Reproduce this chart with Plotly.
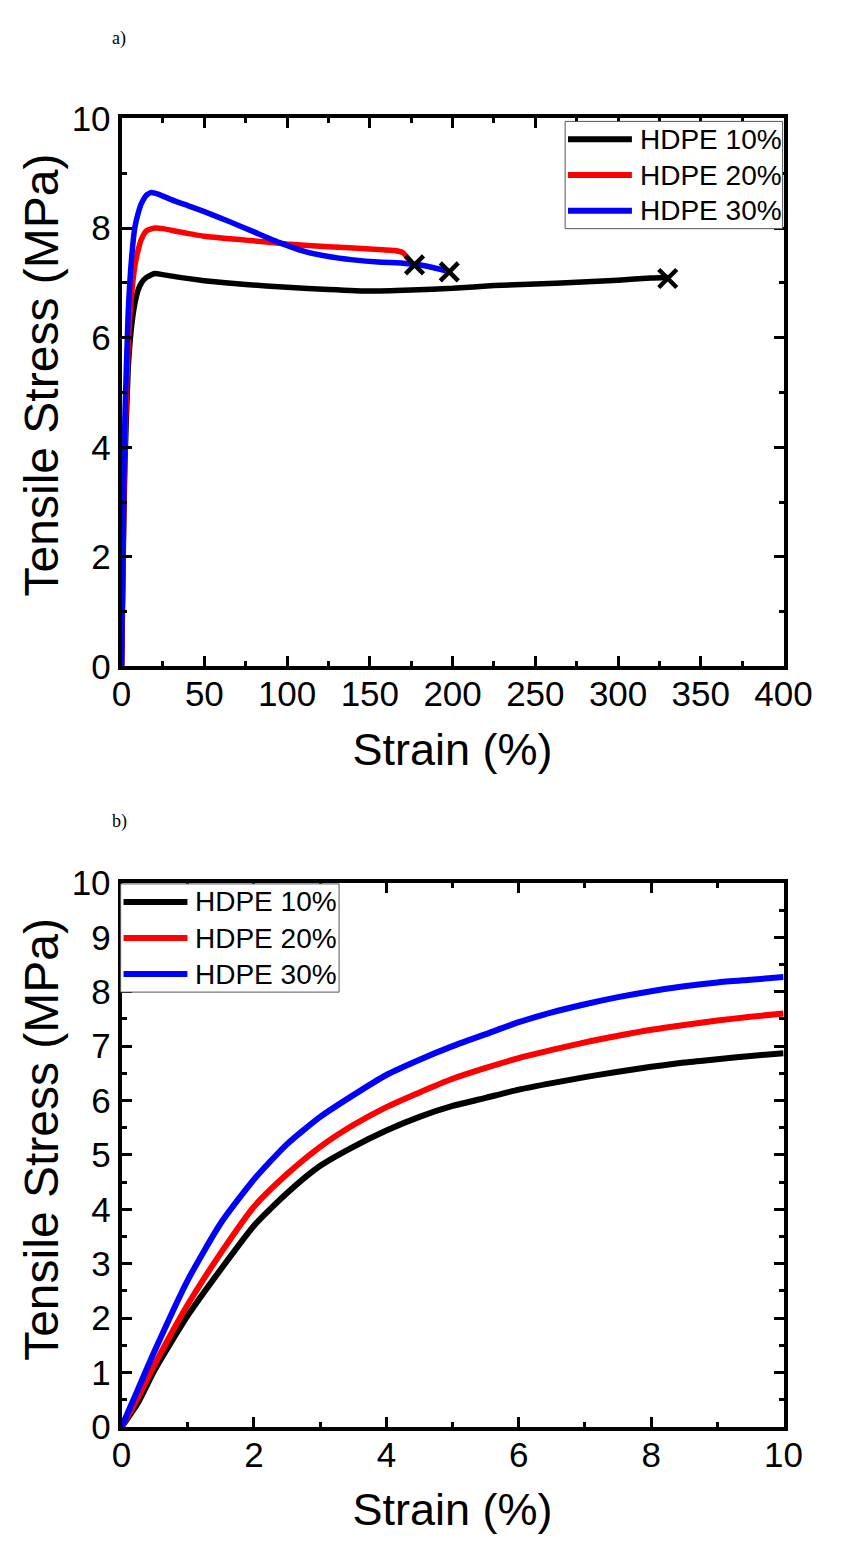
import plotly.graph_objects as go

W, H = 845, 1563
FONT = "Liberation Sans, Arial, sans-serif"

series_names = ["HDPE 10%", "HDPE 20%", "HDPE 30%"]
series_colors = ["#000000", "#ff0000", "#0000ff"]
x_title = "Strain (%)"
y_title = "Tensile Stress (MPa)"

# ---------- panel a) full curves ----------
strain_a_10 = [0, 1, 2, 4, 6, 8, 10, 12, 15, 20, 25, 35, 50, 75, 100, 125, 150, 175, 200, 225, 250, 275, 300, 320, 330]
stress_a_10 = [0, 2.05, 3.7, 5.45, 6.2, 6.62, 6.87, 7.0, 7.1, 7.17, 7.15, 7.1, 7.04, 6.97, 6.92, 6.88, 6.85, 6.87, 6.9, 6.95, 6.98, 7.01, 7.05, 7.09, 7.1]

strain_a_20 = [0, 1, 2, 4, 6, 8, 10, 12, 15, 20, 25, 35, 50, 75, 100, 125, 150, 165, 170, 173, 175]
stress_a_20 = [0, 2.25, 4.05, 5.88, 6.78, 7.3, 7.6, 7.8, 7.95, 8.0, 7.99, 7.93, 7.85, 7.78, 7.71, 7.66, 7.62, 7.59, 7.55, 7.45, 7.38]

strain_a_30 = [0, 1, 2, 4, 6, 8, 10, 12, 15, 18, 22, 30, 40, 50, 65, 80, 95, 110, 125, 140, 155, 170, 180, 188, 196]
stress_a_30 = [0, 2.7, 4.55, 6.47, 7.44, 8.01, 8.27, 8.45, 8.6, 8.65, 8.62, 8.52, 8.41, 8.3, 8.12, 7.93, 7.74, 7.58, 7.48, 7.42, 7.38, 7.36, 7.33, 7.28, 7.22]

break_strain = [330, 177, 198]
break_stress = [7.08, 7.33, 7.2]

# ---------- panel b) initial region ----------
strain_b = [0, 0.25, 0.5, 1, 1.5, 2, 2.5, 3, 3.5, 4, 4.5, 5, 5.5, 6, 6.5, 7, 7.5, 8, 8.5, 9, 9.5, 10]
stress_b_10 = [0, 0.45, 1.05, 2.05, 2.9, 3.7, 4.3, 4.8, 5.15, 5.45, 5.7, 5.9, 6.05, 6.2, 6.32, 6.43, 6.53, 6.62, 6.7, 6.76, 6.82, 6.87]
stress_b_20 = [0, 0.55, 1.15, 2.25, 3.2, 4.05, 4.65, 5.15, 5.55, 5.88, 6.15, 6.4, 6.6, 6.78, 6.93, 7.07, 7.19, 7.3, 7.39, 7.47, 7.54, 7.6]
stress_b_30 = [0, 0.7, 1.4, 2.7, 3.75, 4.55, 5.2, 5.7, 6.1, 6.47, 6.75, 7.0, 7.22, 7.44, 7.62, 7.77, 7.9, 8.01, 8.1, 8.17, 8.22, 8.27]

fig = go.Figure()

a_x = [strain_a_10, strain_a_20, strain_a_30]
a_y = [stress_a_10, stress_a_20, stress_a_30]
for name, color, xs, ys in zip(series_names, series_colors, a_x, a_y):
    fig.add_trace(go.Scatter(x=xs, y=ys, mode="lines", name=name,
                             line=dict(color=color, width=5.5, shape="spline", smoothing=0.5),
                             showlegend=False, xaxis="x", yaxis="y"))
fig.add_trace(go.Scatter(x=break_strain, y=break_stress, mode="markers",
                         marker=dict(symbol="x-thin", size=18, color="black",
                                     line=dict(width=4.5, color="black")),
                         showlegend=False, xaxis="x", yaxis="y"))

b_y = [stress_b_10, stress_b_20, stress_b_30]
for name, color, ys in zip(series_names, series_colors, b_y):
    fig.add_trace(go.Scatter(x=strain_b, y=ys, mode="lines", name=name,
                             line=dict(color=color, width=6, shape="spline", smoothing=0.6),
                             showlegend=False, xaxis="x2", yaxis="y2"))


def axis(domain, rng, dtick, minor_dtick, anchor, title=None, lab_off=0):
    d = dict(
        domain=domain, range=rng, dtick=dtick, tick0=0, anchor=anchor,
        ticks="inside", ticklen=10, tickwidth=3, tickcolor="black",
        showline=True, linewidth=4, linecolor="black", mirror="allticks",
        showgrid=False, zeroline=False, ticklabelstandoff=lab_off,
        tickfont=dict(size=35, family=FONT, color="black"),
        minor=dict(ticks="inside", ticklen=5, tickwidth=3, tickcolor="black",
                   dtick=minor_dtick, tick0=0, showgrid=False),
    )
    if title:
        d["title"] = dict(text=title, font=dict(size=45, family=FONT, color="black"), standoff=22)
    return d


xdom = [117 / W, 811 / W]
ydom_a = [1 - 663 / H, 1 - 101 / H]
ydom_b = [1 - 1443 / H, 1 - 885 / H]

fig.update_layout(
    width=W, height=H,
    margin=dict(l=0, r=0, t=0, b=0),
    paper_bgcolor="white", plot_bgcolor="white",
    showlegend=False,
    xaxis=axis(xdom, [0, 400], 50, 25, "y", x_title, -6),
    yaxis=axis(ydom_a, [0, 10], 2, 1, "x"),
    xaxis2=axis(xdom, [0, 10], 2, 1, "y2", x_title, -6),
    yaxis2=axis(ydom_b, [0, 10], 1, 0.5, "x2"),
)

# y-axis titles (sit slightly above the centre of each panel, as in the source)
for yc in (364, 1148):
    fig.add_annotation(text=y_title, textangle=-90, x=33 / W, y=1 - yc / H,
                       xref="paper", yref="paper", xanchor="center", yanchor="middle",
                       showarrow=False, font=dict(family=FONT, size=48, color="black"))

# panel labels
for lab, yc in (("a)", 19), ("b)", 822)):
    fig.add_annotation(text=lab, x=105 / W, y=1 - yc / H, xref="paper", yref="paper",
                       xanchor="left", yanchor="middle", showarrow=False,
                       font=dict(family="Liberation Serif, Times New Roman, serif", size=18, color="black"))

# legends (drawn as boxed keys)
legend_boxes = [
    dict(x0=582, x1=810, y0=104, y1=214),
    dict(x0=116, x1=345, y0=886, y1=997),
]
for box in legend_boxes:
    fig.add_shape(type="rect", xref="paper", yref="paper",
                  x0=box["x0"] / W, x1=box["x1"] / W,
                  y0=1 - box["y1"] / H, y1=1 - box["y0"] / H,
                  line=dict(color="#555555", width=1), fillcolor="white", layer="above")
    row_h = (box["y1"] - box["y0"]) / 3
    for i, (name, color) in enumerate(zip(series_names, series_colors)):
        yc = box["y0"] + row_h * (i + 0.5)
        fig.add_shape(type="line", xref="paper", yref="paper",
                      x0=(box["x0"] + 3) / W, x1=(box["x0"] + 70) / W,
                      y0=1 - yc / H, y1=1 - yc / H,
                      line=dict(color=color, width=6), layer="above")
        fig.add_annotation(text=name, x=(box["x0"] + 76) / W, y=1 - yc / H,
                           xref="paper", yref="paper", xanchor="left", yanchor="middle",
                           showarrow=False, font=dict(family=FONT, size=28, color="black"))

fig.write_html("out.html")
